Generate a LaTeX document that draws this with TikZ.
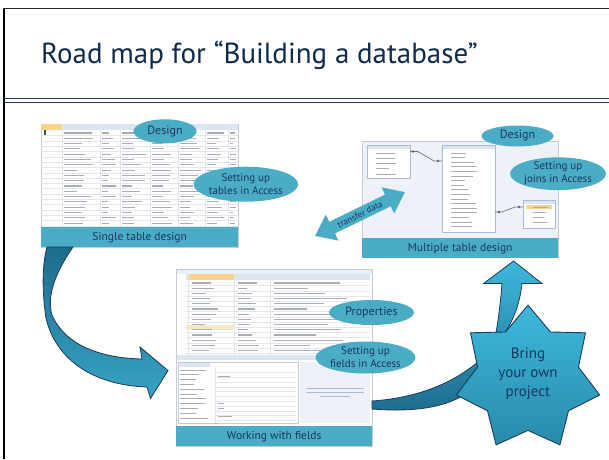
\documentclass[tikz,border=0pt]{standalone}
\usepackage{fontspec}
\setmainfont{PT Sans}
\usetikzlibrary{shapes.geometric}
\definecolor{acc}{HTML}{4BACC6}
\definecolor{navy}{HTML}{17375E}
\definecolor{ttl}{HTML}{0F2B4C}
\definecolor{rulec}{HTML}{1F3864}
\definecolor{edgec}{HTML}{1B3A5C}
\definecolor{starT}{HTML}{3DB8DC}
\definecolor{starB}{HTML}{2A8BAA}
\definecolor{arrT}{HTML}{1E6B8C}
\definecolor{arrB}{HTML}{37A3C3}
\definecolor{hdr}{HTML}{DCE6F2}
\definecolor{org}{HTML}{F8D38C}
\definecolor{gridc}{HTML}{E3E6EA}
\definecolor{txtc}{HTML}{A9AEB5}
\definecolor{frm}{HTML}{C5CCD6}
\definecolor{mtbg}{HTML}{EEF2F8}
\definecolor{tblb}{HTML}{A9BCD6}
\tikzset{
 bubble/.style={ellipse, fill=acc, inner sep=0pt, text=navy, align=center, font=\fontsize{11}{13}\selectfont},
 banner/.style={fill=acc, inner sep=0pt, anchor=north west, text=navy, minimum height=20pt, font=\fontsize{11.5}{13}\selectfont},
 shot/.style={fill=white, draw=frm, line width=0.6pt},
 tbar/.style={txtc, line width=1.1pt},
 gline/.style={gridc, line width=0.4pt},
 bigarrow/.style={draw=edgec, line width=0.8pt, line join=miter},
}
\begin{document}
\begin{tikzpicture}[x=1pt,y=-1pt]
\useasboundingbox (0,0) rectangle (609,459);
\fill[white] (0,0) rectangle (609,459);
\pgfmathsetseed{7}
% frame and title
\draw[black, line width=2pt] (4,8) -- (4,459);
\draw[black!85, line width=1pt] (3,8) -- (609,8);
\draw[rulec, line width=0.9pt] (4,98) -- (609,98);
\draw[rulec, line width=0.9pt] (4,102.5) -- (609,102.5);
\node[anchor=base west, inner sep=0pt, text=ttl, font=\fontsize{29}{33}\selectfont] (title) at (41,63) {Road map for “Building a database”};

% ---------- single table screenshot ----------
\draw[shot] (41,124) rectangle (238,247);
\fill[hdr] (41,124) rectangle (238,130);
\fill[org] (41,124) rectangle (62,130);
\foreach \x in {62,100,120,150,178,205,228} \draw[gline] (\x,124) -- (\x,227);
\foreach \r in {0,...,17}{
  \pgfmathsetmacro\yy{133+\r*5.3}
  \draw[gline] (41,\yy+2.6) -- (238,\yy+2.6);
  \foreach \cx/\cw in {64/30,102/14,122/24,152/22,180/22,207/18,230/7}{
    \pgfmathsetmacro\ll{\cw*(0.4+0.6*rnd)}
    \draw[tbar] (\cx,\yy) -- ++(\ll,0);
  }
}
\draw[black!70, line width=1.2pt] (45,130) -- (45,135);
\node[banner, minimum width=197pt] (b1) at (41,227) {Single table design};

% ---------- multiple table screenshot ----------
\fill[mtbg] (362,141) rectangle (558,238);
\draw[frm, line width=0.6pt] (362,141) rectangle (558,257);
% table 1
\draw[tblb, fill=white, line width=0.6pt] (367,145) rectangle (410,178);
\fill[hdr] (367.5,145.5) rectangle (409.5,149);
\foreach \r in {0,...,4}{
  \pgfmathsetmacro\yy{153+\r*5.3}
  \pgfmathsetmacro\ll{12+14*rnd}
  \draw[tbar, line width=1pt] (376,\yy) -- ++(\ll,0);
}
% table 2
\draw[tblb, fill=white, line width=0.6pt] (442,145) rectangle (495,232);
\fill[hdr] (442.5,145.5) rectangle (494.5,149);
\foreach \r in {0,...,16}{
  \pgfmathsetmacro\yy{153+\r*4.6}
  \pgfmathsetmacro\ll{12+16*rnd}
  \draw[tbar, line width=1pt] (451,\yy) -- ++(\ll,0);
}
% table 3
\draw[tblb, fill=white, line width=0.6pt] (523,200) rectangle (555,228);
\fill[hdr] (523.5,200.5) rectangle (554.5,204);
\fill[org] (526,205) rectangle (552,209);
\foreach \r in {0,...,3}{
  \pgfmathsetmacro\yy{207+\r*5}
  \pgfmathsetmacro\ll{10+8*rnd}
  \draw[tbar, line width=1pt] (533,\yy) -- ++(\ll,0);
}
% relationship lines
\draw[black!55, line width=0.7pt] (410,151.5) -- (418,151.5) -- (434,161) -- (442,161);
\draw[black!55, line width=0.7pt] (495,212) -- (502,212) -- (515,207) -- (523,207);
\foreach \p in {(413,151.5),(438,161),(499,212),(519,207)} \fill[black!60] \p circle (1.3pt);
\node[banner, minimum width=196pt] (b2) at (362,238) {Multiple table design};

% ---------- working with fields screenshot ----------
\draw[shot] (176,269) rectangle (372,446);
\fill[hdr!60] (176.5,269.5) rectangle (371.5,274);
\fill[hdr] (186,274) rectangle (370,280);
\fill[org] (188,274) rectangle (234,280);
\foreach \x in {188,234,270} \draw[gline] (\x,274) -- (\x,355);
\fill[org!55] (186,325) rectangle (234,330);
\foreach \r in {0,...,14}{
  \pgfmathsetmacro\yy{283+\r*5.2}
  \draw[gline] (186,\yy+2.6) -- (370,\yy+2.6);
  \foreach \cx/\cw in {192/30,238/22,274/80}{
    \pgfmathsetmacro\ll{\cw*(0.4+0.6*rnd)}
    \draw[tbar] (\cx,\yy) -- ++(\ll,0);
  }
}
\fill[hdr] (176.5,355) rectangle (371.5,360);
\draw[frm, fill=white, line width=0.5pt] (178,362) rectangle (298,423);
\fill[hdr] (178.5,362.5) rectangle (210,366.5);
\draw[gline] (215,367) -- (215,423);
\foreach \r in {0,...,10}{
  \pgfmathsetmacro\yy{370+\r*4.8}
  \pgfmathsetmacro\ll{14+14*rnd}
  \draw[tbar, line width=1pt] (180,\yy) -- ++(\ll,0);
  \draw[gline] (215,\yy+2.4) -- (296,\yy+2.4);
}
\foreach \yy/\ll in {376/12,403/6,408/6,416/14} \draw[tbar, line width=1pt] (218,\yy) -- ++(\ll,0);
\fill[mtbg] (300,362) rectangle (370,423);
\foreach \yy/\xa/\xb in {388/306/364,392/306/364,396/320/350} \draw[tblb, line width=1pt] (\xa,\yy) -- (\xb,\yy);
\node[banner, minimum width=196pt] (b3) at (176,426) {Working with fields};

% ---------- transfer data double arrow ----------
\begin{scope}[shift={(360,214)}, rotate=26]
\fill[acc] (-50,0) -- (-31,14.5) -- (-31,6.5) -- (31,6.5) -- (31,14.5) -- (50,0) -- (31,-14.5) -- (31,-6.5) -- (-31,-6.5) -- (-31,-14.5) -- cycle;
\end{scope}
\node[rotate=26, text=navy, inner sep=0pt, font=\fontsize{9}{10}\selectfont] (tdata) at (360,214.5) {transfer data};

% ---------- curved arrow single -> fields ----------
\shade[bigarrow, top color=arrT, bottom color=arrB]
  (73,247) .. controls (57,270) and (46,295) .. (52,315)
  .. controls (65,345) and (100,358) .. (142,359)
  -- (140,347) -- (168,370.5) -- (150.5,398.5) -- (147,387)
  .. controls (90,385) and (55,357) .. (46,318)
  .. controls (42,292) and (42,265) .. (47,247) -- cycle;

% ---------- curved up arrow fields -> multiple ----------
\shade[bigarrow, top color=starT, bottom color=arrT]
  (372,409) .. controls (435,414) and (468,400) .. (485,375)
  .. controls (495,350) and (500,310) .. (502,283.5)
  -- (483.5,283.5) -- (513.5,261) -- (542,283.5) -- (522,283.5)
  .. controls (518,320) and (500,345) .. (478,362)
  .. controls (450,385) and (415,398) .. (372,401) -- cycle;

% ---------- star ----------
\node[star, star points=7, star point ratio=1.42, minimum size=147pt, inner sep=0pt,
      draw=edgec, line width=0.9pt, line join=miter, top color=starT, bottom color=starB] (star) at (528,378.6) {};
\node[text=navy, align=center, font=\fontsize{15}{19}\selectfont] (startext) at (528,373.5) {Bring\\your own\\project};

% ---------- bubbles ----------
\node[bubble, minimum width=63pt, minimum height=24pt, font=\fontsize{12}{14}\selectfont] (d1) at (165,131.3) {Design};
\node[bubble, minimum width=95pt, minimum height=35pt] (s1) at (245.8,184.2) {Setting up\\tables in Access};
\node[bubble, minimum width=72pt, minimum height=21pt, font=\fontsize{12}{14}\selectfont] (d2) at (517.5,136) {Design};
\node[bubble, minimum width=94pt, minimum height=28pt] (s2) at (558,173.7) {Setting up\\joins in Access};
\node[bubble, minimum width=85pt, minimum height=25pt, font=\fontsize{12}{14}\selectfont] (p3) at (371.5,312.5) {Properties};
\node[bubble, minimum width=89pt, minimum height=32pt] (s3) at (365.5,357.5) {Setting up\\fields in Access};
\end{tikzpicture}
\end{document}
